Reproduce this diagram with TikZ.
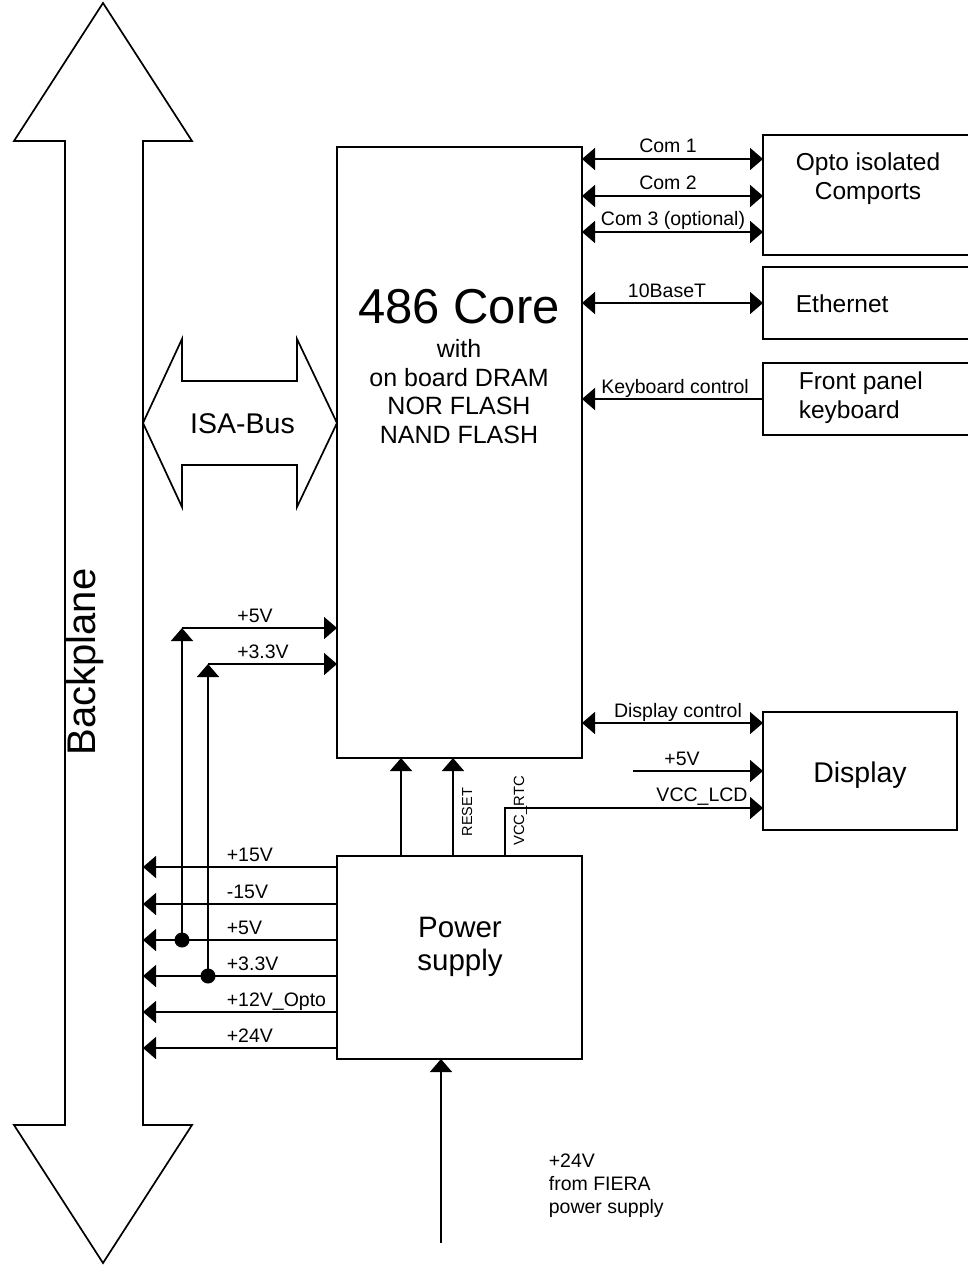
\documentclass[tikz,border=0pt]{standalone}
\usepackage{fontspec}
\setmainfont{Liberation Sans}
\usetikzlibrary{arrows.meta}
\begin{document}
\begin{tikzpicture}[x=1pt,y=-1pt,
  line width=1.7pt,
  >={Triangle[length=13pt,width=22pt]},
  box/.style={draw, line width=1.7pt, inner sep=0pt, outer sep=0pt},
  lbl/.style={font=\fontsize{19.5}{23}\selectfont, inner sep=0pt, anchor=base},
  lbll/.style={lbl, anchor=base west},
  rotlbl/.style={font=\fontsize{14.8}{17}\selectfont, inner sep=0pt, rotate=90, anchor=base},
  boxtxt/.style={font=\fontsize{24.5}{29}\selectfont, inner sep=0pt, anchor=base},
  bigtxt/.style={font=\fontsize{29}{34}\selectfont, inner sep=0pt, anchor=base},
  coretxt/.style={font=\fontsize{25}{29}\selectfont, inner sep=0pt, anchor=base},
  dot/.style={circle, fill, inner sep=0pt, minimum size=15pt}]
\useasboundingbox (0,0) rectangle (967,1266);

% Backplane big double arrow
\draw[line join=miter] (103,3) -- (192,141) -- (143,141) -- (143,1125) -- (192,1125)
  -- (103,1263) -- (14,1125) -- (65,1125) -- (65,141) -- (14,141) -- cycle;
\coordinate (bpR) at (143,0);
\node[font=\fontsize{40}{48}\selectfont, inner sep=0pt, rotate=90, anchor=base] (bptxt) at (95,662) {Backplane};

% ISA bus double arrow
\draw[line join=miter] (143,423) -- (182,339) -- (182,381) -- (297,381) -- (297,339)
  -- (337,423) -- (297,507) -- (297,465) -- (182,465) -- (182,507) -- cycle;
\node[bigtxt, font=\fontsize{28.5}{34}\selectfont] (isatxt) at (242.5,433) {ISA-Bus};

% Boxes
\node[box, minimum width=245pt, minimum height=611pt] (core) at (459.5,452.5) {};
\node[box, minimum width=245pt, minimum height=203pt] (ps) at (459.5,957.5) {};
\node[box, minimum width=208pt, minimum height=120pt] (opto) at (867,195) {};
\node[box, minimum width=208pt, minimum height=72pt] (eth) at (867,303) {};
\node[box, minimum width=208pt, minimum height=72pt] (kbd) at (867,399) {};
\node[box, minimum width=194pt, minimum height=118pt] (disp) at (860,771) {};

% Box texts
\node[font=\fontsize{49}{58}\selectfont, inner sep=0pt, anchor=base] (c1) at (459,323) {486 Core};
\node[coretxt] (c2) at (459,357) {with};
\node[coretxt] (c3) at (459,386) {on board DRAM};
\node[coretxt] (c4) at (459,414) {NOR FLASH};
\node[coretxt] (c5) at (459,443) {NAND FLASH};
\node[boxtxt] (o1) at (868,170) {Opto isolated};
\node[boxtxt] (o2) at (868,199) {Comports};
\node[boxtxt, anchor=base west] (e1) at (795,312) {Ethernet};
\node[boxtxt, anchor=base west] (k1) at (798,389) {Front panel};
\node[boxtxt, anchor=base west] (k2) at (798,418) {keyboard};
\node[bigtxt, font=\fontsize{28.5}{34}\selectfont] (d1) at (860,782) {Display};
\node[bigtxt, font=\fontsize{29.5}{34}\selectfont] (p1) at (460,937) {Power};
\node[bigtxt, font=\fontsize{29.5}{34}\selectfont] (p2) at (460,970) {supply};

% Core <-> peripherals
\draw[<->] (core.east |- 0,159) -- (opto.west |- 0,159);
\draw[<->] (core.east |- 0,196) -- (opto.west |- 0,196);
\draw[<->] (core.east |- 0,232) -- (opto.west |- 0,232);
\draw[<->] (core.east |- 0,303) -- (eth.west |- 0,303);
\draw[->] (kbd.west |- 0,399) -- (core.east |- 0,399);
\draw[<->] (core.east |- 0,723) -- (disp.west |- 0,723);
\coordinate (d5) at (633,771);
\draw[->] (d5) -- (disp.west |- d5);
\draw[->] (ps.north -| 505,0) |- (disp.west |- 0,808);

\node[lbl] (lc1) at (668,152) {Com 1};
\node[lbl] (lc2) at (668,189) {Com 2};
\node[lbl] (lc3) at (673,225) {Com 3 (optional)};
\node[lbl] (l10) at (667,297) {10BaseT};
\node[lbl] (lkb) at (675,393) {Keyboard control};
\node[lbl] (ldc) at (678,717) {Display control};
\node[lbl] (l5d) at (682,765) {+5V};
\node[lbl] (llcd) at (702,801) {VCC\_LCD};

% Power supply -> core
\draw[->] (ps.north -| 401,0) -- (core.south -| 401,0);
\draw[->] (ps.north -| 453,0) -- (core.south -| 453,0);
\node[rotlbl, font=\fontsize{14.5}{17}\selectfont] (lrst) at (472,812) {RESET};
\node[rotlbl] (lrtc) at (524,811) {VCC\_RTC};

% Power supply -> backplane
\draw[->] (ps.west |- 0,867) -- (bpR |- 0,867);
\draw[->] (ps.west |- 0,904) -- (bpR |- 0,904);
\draw[->] (ps.west |- 0,940) -- (bpR |- 0,940);
\draw[->] (ps.west |- 0,976) -- (bpR |- 0,976);
\draw[->] (ps.west |- 0,1012) -- (bpR |- 0,1012);
\draw[->] (ps.west |- 0,1048) -- (bpR |- 0,1048);
\node[lbll] (v1) at (226,861) {+15V};
\node[lbll] (v2) at (226,898) {-15V};
\node[lbll] (v3) at (226,934) {+5V};
\node[lbll] (v4) at (226,970) {+3.3V};
\node[lbll] (v5) at (226,1006) {+12V\_Opto};
\node[lbll] (v6) at (226,1042) {+24V};

% Taps to core
\node[dot] (dA) at (182,940) {};
\node[dot] (dB) at (208,976) {};
\coordinate (cA) at (182,628);
\coordinate (cB) at (208,664);
\draw[->] (dA.center) -- (cA);
\draw[->] (cA) -- (core.west |- cA);
\draw[->] (dB.center) -- (cB);
\draw[->] (cB) -- (core.west |- cB);
\node[lbl] (l5c) at (255,622) {+5V};
\node[lbl] (l33c) at (263,658) {+3.3V};

% Input supply
\coordinate (inp) at (441,1243);
\draw[->] (inp) -- (ps.south -| inp);
\node[lbll] (i1) at (548,1167) {+24V};
\node[lbll] (i2) at (548,1190) {from FIERA};
\node[lbll] (i3) at (548,1213) {power supply};
\end{tikzpicture}
\end{document}
